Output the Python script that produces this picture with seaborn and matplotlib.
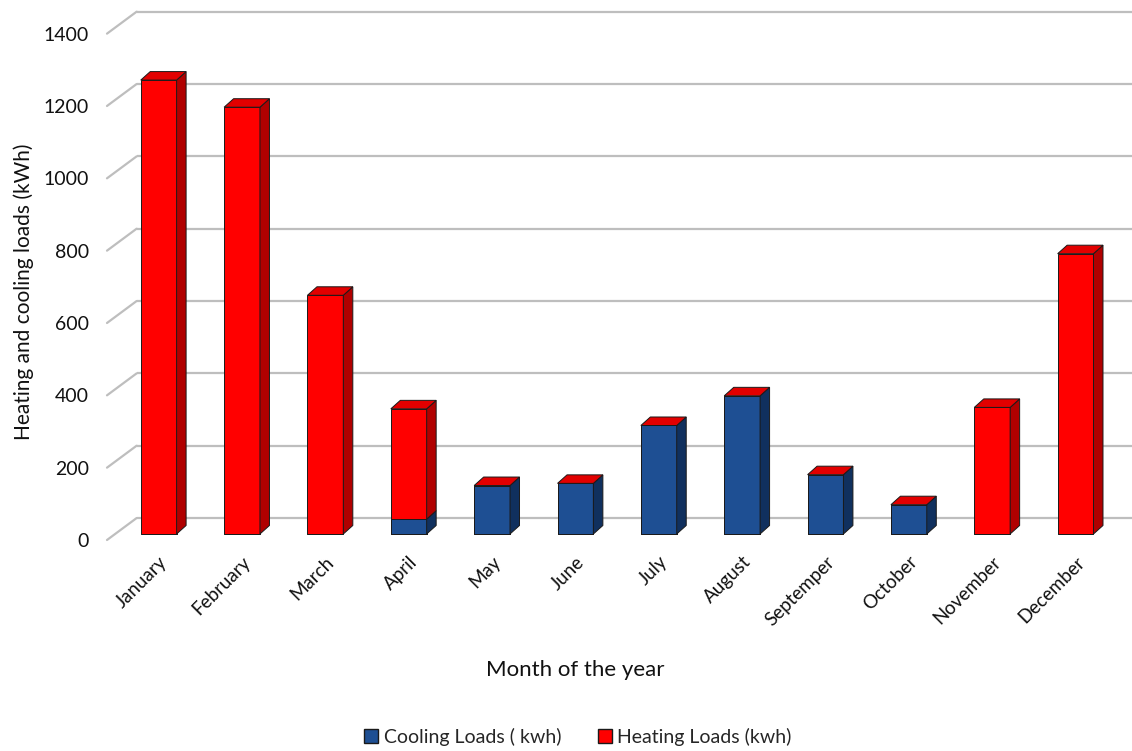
import numpy as np
import pandas as pd
import matplotlib
matplotlib.use("Agg")
import matplotlib.pyplot as plt
import seaborn as sns
from matplotlib.patches import Patch
from matplotlib.transforms import ScaledTranslation

# Monthly loads (kWh)
months = ["January", "February", "March", "April", "May", "June", "July",
          "August", "Septemper", "October", "November", "December"]
cooling = [0, 0, 0, 41, 134, 140, 300, 382, 164, 81, 0, 0]
heating = [1255, 1180, 660, 305, 0, 0, 0, 0, 0, 0, 350, 775]
y_ticks = [0, 200, 400, 600, 800, 1000, 1200, 1400]

sns.set_theme(style="white")
plt.rcParams["font.family"] = ["Lato", "DejaVu Sans"]

RED, RED_SIDE, RED_TOP = "#FF0000", "#B00000", "#E20000"
BLUE, BLUE_SIDE = "#1E4F93", "#10305E"
EDGE = "#1a1a1a"
GRID = "#BEBEBE"
TXT = "#111111"

W, H = 1132, 751
fig = plt.figure(figsize=(W / 100, H / 100), dpi=100)
left, right, top, bottom = 107, 1132, 0, 560
ax = fig.add_axes([left / W, 1 - bottom / H, (right - left) / W, (bottom - top) / H])

df = pd.DataFrame({"month": months, "cooling": cooling, "heating": heating})
df["total"] = df["cooling"] + df["heating"]

width = 0.43
# pseudo-3D depth offsets (category units, value units)
dx, dy = 0.114, 23.5
# back wall and front edge offsets relative to the bar front plane
wall_x0, wall_x1 = -0.62, -0.264
wall_dy_front, wall_dy_back = -16.6, 44.2

# front faces: stacked columns
sns.barplot(data=df, x="month", y="total", color=RED, width=width, saturation=1,
            edgecolor=EDGE, linewidth=0.7, ax=ax, zorder=3)
sns.barplot(data=df, x="month", y="cooling", color=BLUE, width=width, saturation=1,
            edgecolor=EDGE, linewidth=0.7, ax=ax, zorder=3)

# side and top faces
for i, (c, h) in enumerate(zip(df["cooling"], df["heating"])):
    x0, x1 = i - width / 2, i + width / 2
    segs = [(0, c, BLUE_SIDE), (c, c + h, RED_SIDE)]
    for y0, y1, col in segs:
        if y1 > y0:
            ax.fill([x1, x1 + dx, x1 + dx, x1], [y0, y0 + dy, y1 + dy, y1],
                    facecolor=col, edgecolor=EDGE, linewidth=0.7, zorder=3)
    t = c + h
    ax.fill([x0, x0 + dx, x1 + dx, x1], [t, t + dy, t + dy, t],
            facecolor=RED_TOP, edgecolor=EDGE, linewidth=0.7, zorder=3)

xmax = 11.677
ax.set_xlim(wall_x0, xmax)
ax.set_ylim(-71.9, 1476.4)

# back-wall gridlines and left-wall diagonals
for v in y_ticks:
    ax.plot([wall_x1, xmax], [v + wall_dy_back] * 2, color=GRID, lw=1.6, zorder=1,
            solid_capstyle="butt")
    ax.plot([wall_x0, wall_x1], [v + wall_dy_front, v + wall_dy_back], color=GRID,
            lw=1.6, zorder=1, clip_on=False)

for s in ax.spines.values():
    s.set_visible(False)

ax.set_yticks(y_ticks)
ax.set_yticklabels([str(v) for v in y_ticks])
ax.tick_params(axis="y", length=0, pad=13, labelsize=14, labelcolor=TXT)
shift = ScaledTranslation(0, -6 / 100, fig.dpi_scale_trans)
for lab in ax.get_yticklabels():
    lab.set_transform(lab.get_transform() + shift)

ax.tick_params(axis="x", length=0, pad=-5, labelsize=13.5, labelcolor=TXT)
plt.setp(ax.get_xticklabels(), rotation=45, ha="right", rotation_mode="anchor")

ax.set_xlabel("Month of the year", fontsize=16, color=TXT)
ax.set_ylabel("Heating and cooling loads (kWh)", fontsize=15, color=TXT)
ax.xaxis.set_label_coords((575 - left) / (right - left), (bottom - 660) / (bottom - top))
ax.yaxis.set_label_coords((34 - left) / (right - left), (bottom - 292) / (bottom - top))

handles = [Patch(facecolor=BLUE, edgecolor=EDGE, label="Cooling Loads ( kwh)"),
           Patch(facecolor=RED, edgecolor=EDGE, label="Heating Loads (kwh)")]
fig.legend(handles=handles, loc="center", bbox_to_anchor=(578 / W, 1 - 737 / H),
           ncol=2, frameon=False, fontsize=14, handlelength=0.7, handleheight=0.7,
           columnspacing=1.9, handletextpad=0.3)

fig.savefig("out.png", dpi=100)
